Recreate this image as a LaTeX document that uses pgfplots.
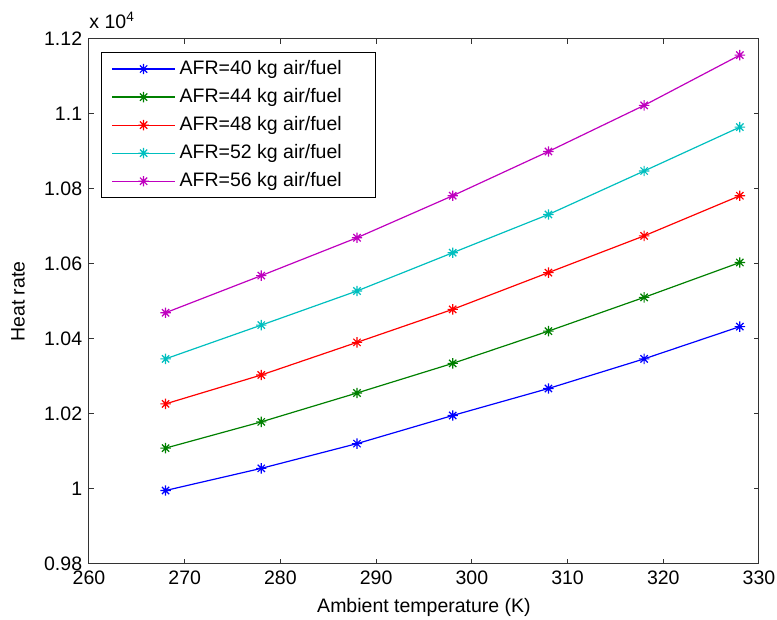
\documentclass[border=0pt]{standalone}
\usepackage{fontspec}
\setmainfont{Liberation Sans}
\usepackage{pgfplots}
\pgfplotsset{compat=1.18}
\definecolor{mgreen}{rgb}{0,0.5,0}
\definecolor{mcyan}{rgb}{0,0.75,0.75}
\definecolor{mmag}{rgb}{0.75,0,0.75}
\pgfdeclareplotmark{mstar}{%
  \pgfpathmoveto{\pgfqpoint{-\pgfplotmarksize}{0pt}}\pgfpathlineto{\pgfqpoint{\pgfplotmarksize}{0pt}}%
  \pgfpathmoveto{\pgfqpoint{0pt}{-\pgfplotmarksize}}\pgfpathlineto{\pgfqpoint{0pt}{\pgfplotmarksize}}%
  \pgfpathmoveto{\pgfqpoint{-0.7\pgfplotmarksize}{-0.7\pgfplotmarksize}}\pgfpathlineto{\pgfqpoint{0.7\pgfplotmarksize}{0.7\pgfplotmarksize}}%
  \pgfpathmoveto{\pgfqpoint{-0.7\pgfplotmarksize}{0.7\pgfplotmarksize}}\pgfpathlineto{\pgfqpoint{0.7\pgfplotmarksize}{-0.7\pgfplotmarksize}}%
  \pgfusepathqstroke}
\begin{document}
\fontsize{9.75}{11.7}\selectfont
\begin{tikzpicture}
\useasboundingbox (-44.5pt,-28pt) rectangle (344pt,282pt);
\begin{axis}[
  at={(0,0)}, anchor=south west,
  scale only axis, width=335pt, height=262.5pt,
  clip=false,
  xmin=260, xmax=330, ymin=9800, ymax=11200,
  xtick={260,270,280,290,300,310,320,330},
  xticklabels={260,270,280,290,300,310,320,330},
  ytick={9800,10000,10200,10400,10600,10800,11000,11200},
  yticklabels={0.98,1,1.02,1.04,1.06,1.08,1.1,1.12},
  scaled y ticks=false,
  tick label style={font=\fontsize{9.75}{11.7}\selectfont},
  label style={font=\fontsize{9.75}{11.7}\selectfont},
  xlabel={Ambient temperature (K)},
  ylabel={Heat rate},
  ylabel shift=3pt,
  tick align=inside, major tick length=2.5pt,
  axis line style={black!80, line width=0.5pt},
  every tick/.style={black!80, line width=0.5pt},
  every axis plot/.append style={line width=0.6pt, mark=mstar, mark size=2.6pt, mark options={solid}},
  legend style={at={(rel axis cs:0,1)}, anchor=north west, xshift=6pt, yshift=-6.5pt,
    draw=black, line width=0.5pt, font=\fontsize{9.75}{11.7}\selectfont, row sep=1.5pt, inner sep=2pt},
  legend cell align=left,
  legend image code/.code={\path (0pt,0pt); \draw[#1,line width=0.6pt,mark repeat=2,mark phase=2] plot coordinates {(3pt,0pt) (18.75pt,0pt) (34.5pt,0pt)};},
]
\addplot[color=blue] coordinates {(268,9996) (278,10055) (288,10121) (298,10196) (308,10268) (318,10347) (328,10433)};
\addlegendentry{AFR=40 kg air/fuel\rule{13pt}{0pt}}
\addplot[color=mgreen] coordinates {(268,10109) (278,10179) (288,10256) (298,10335) (308,10421) (318,10511) (328,10604)};
\addlegendentry{AFR=44 kg air/fuel\rule{13pt}{0pt}}
\addplot[color=red] coordinates {(268,10227) (278,10304) (288,10391) (298,10479) (308,10577) (318,10675) (328,10782)};
\addlegendentry{AFR=48 kg air/fuel\rule{13pt}{0pt}}
\addplot[color=mcyan] coordinates {(268,10347) (278,10437) (288,10528) (298,10630) (308,10732) (318,10848) (328,10965)};
\addlegendentry{AFR=52 kg air/fuel\rule{13pt}{0pt}}
\addplot[color=mmag] coordinates {(268,10470) (278,10569) (288,10670) (298,10782) (308,10900) (318,11023) (328,11157)};
\addlegendentry{AFR=56 kg air/fuel\rule{13pt}{0pt}}
\node[anchor=south west, inner sep=0pt, yshift=5pt] at (rel axis cs:0,1) {x 10\textsuperscript{4}};
\end{axis}
\end{tikzpicture}
\end{document}
